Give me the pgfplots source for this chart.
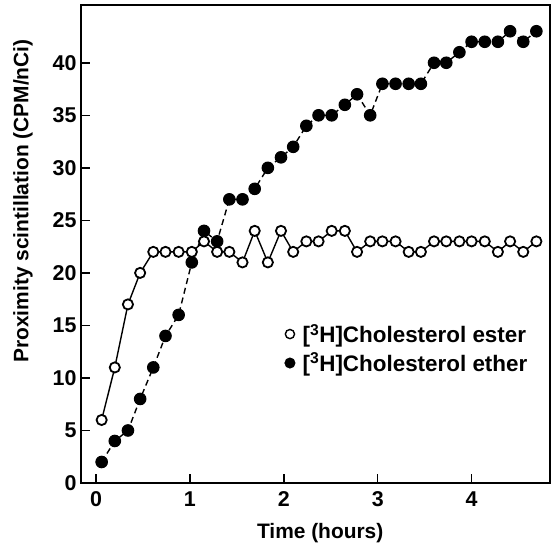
\documentclass[border=0pt]{standalone}
\usepackage{fontspec}
\setmainfont{Liberation Sans}
\usepackage{pgfplots}
\usepackage{pgfplotstable}
\pgfplotsset{compat=1.18}
\pgfplotsset{markonly legend/.style={legend image code/.code={\draw[##1] plot coordinates {(0bp,0bp)}; \path (11bp,0bp);}}}

% time (h), ester and ether signal (CPM/nCi)
\pgfplotstableread{
t    ester ether
0.06  6  2
0.20 11  4
0.34 17  5
0.47 20  8
0.61 22 11
0.74 22 14
0.88 22 16
1.02 22 21
1.15 23 24
1.29 22 23
1.42 22 27
1.56 21 27
1.69 24 28
1.83 21 30
1.97 24 31
2.10 22 32
2.24 23 34
2.37 23 35
2.51 24 35
2.65 24 36
2.78 22 37
2.92 23 35
3.05 23 38
3.19 23 38
3.33 22 38
3.46 22 38
3.60 23 40
3.73 23 40
3.87 23 41
4.00 23 42
4.14 23 42
4.28 22 42
4.41 23 43
4.55 22 42
4.69 23 43
}\cpmdata

\newcommand{\lblfont}{\fontsize{21}{25}\selectfont\bfseries}
\newcommand{\tickfont}{\fontsize{21.5}{25}\selectfont\bfseries}
\newcommand{\legfont}{\fontsize{22.5}{27}\selectfont\bfseries}

\begin{document}
\begin{tikzpicture}
\begin{axis}[
  name=ax,
  scale only axis,
  width=469bp, height=478bp,
  xmin=-0.16, xmax=4.835, ymin=0, ymax=45.5,
  xtick={0,1,2,3,4}, ytick={0,5,...,40},
  xtick pos=bottom, ytick pos=left,
  tick align=inside,
  major tick length=9bp,
  every tick/.style={black, line width=1.5bp},
  axis line style={line width=1.8bp},
  /pgf/number format/assume math mode=true,
  every tick label/.append style={font=\tickfont},
  xticklabel style={yshift=-5bp},
  yticklabel style={xshift=-1bp},
  xlabel={Time (hours)},
  ylabel={Proximity scintillation (CPM/nCi)},
  xlabel style={at={(axis description cs:0.51,-0.105)}, anchor=center, font=\lblfont},
  ylabel style={at={(axis description cs:-0.124,0.59)}, anchor=center, font=\lblfont},
  legend style={draw=none, fill=none, at={(axis description cs:0.434,0.336)}, anchor=north west,
    inner sep=0pt, row sep=6bp, font=\legfont,
    nodes={inner sep=1.5bp, anchor=west}},
  legend cell align=left,
]
\addplot[black, line width=1.4bp, dash pattern=on 6bp off 4bp,
  mark=*, mark size=5.8bp, mark options={solid, fill=black, line width=1bp}, forget plot]
  table[x=t, y=ether] {\cpmdata};
\addplot[black, line width=1.4bp,
  mark=*, mark size=5.1bp, mark options={fill=white, line width=1.8bp}, forget plot]
  table[x=t, y=ester] {\cpmdata};

\addlegendimage{only marks, mark=*, mark size=4.6bp, mark options={fill=white, draw=black, line width=1.4bp}, markonly legend}
\addlegendentry{[\textsuperscript{3}H]Cholesterol ester}
\addlegendimage{only marks, mark=*, mark size=5.2bp, mark options={fill=black, draw=black, line width=0.6bp}, markonly legend}
\addlegendentry{[\textsuperscript{3}H]Cholesterol ether}
\end{axis}
\pgfresetboundingbox
\path ([xshift=-81bp,yshift=-64bp]ax.south west) rectangle ([xshift=1bp,yshift=5bp]ax.north east);
\end{tikzpicture}
\end{document}
